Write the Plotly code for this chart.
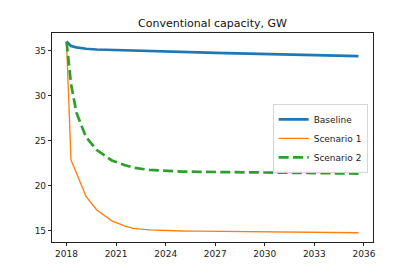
import plotly.graph_objects as go

years = [2018.0, 2018.27, 2018.6, 2019.18, 2019.83, 2020.74, 2021.5, 2022.05,
         2023.0, 2024.0, 2025.0, 2026.0, 2027.0, 2028.0, 2029.0, 2030.0,
         2031.0, 2032.0, 2033.0, 2034.0, 2035.0, 2035.67]

baseline = [36.0, 35.5, 35.35, 35.2, 35.12, 35.06, 35.02, 34.98, 34.92, 34.87,
            34.83, 34.79, 34.75, 34.71, 34.67, 34.63, 34.59, 34.55, 34.51,
            34.46, 34.41, 34.38]

scenario1 = [36.0, 22.85, 21.4, 18.8, 17.3, 16.1, 15.55, 15.27, 15.1, 15.0,
             14.97, 14.95, 14.93, 14.91, 14.9, 14.88, 14.87, 14.85, 14.83,
             14.81, 14.79, 14.78]

scenario2 = [36.0, 31.3, 28.1, 25.4, 23.95, 22.8, 22.3, 22.0, 21.75, 21.62,
             21.57, 21.54, 21.52, 21.5, 21.48, 21.46, 21.44, 21.42, 21.4,
             21.38, 21.36, 21.35]

x_ticks = [2018, 2021, 2024, 2027, 2030, 2033, 2036]
y_ticks = [15, 20, 25, 30, 35]

fig = go.Figure()
fig.add_trace(go.Scatter(x=years, y=baseline, mode="lines", name="Baseline",
                         line=dict(color="#1f77b4", width=2.7)))
fig.add_trace(go.Scatter(x=years, y=scenario1, mode="lines", name="Scenario 1",
                         line=dict(color="#ff7f0e", width=1.35)))
fig.add_trace(go.Scatter(x=years, y=scenario2, mode="lines", name="Scenario 2",
                         line=dict(color="#2ca02c", width=2.7, dash="10px,4.3px")))

axis_common = dict(showgrid=False, zeroline=False, showline=True, linecolor="#222",
                   linewidth=0.8, mirror=True, ticks="outside", ticklen=3.2,
                   tickwidth=0.8, tickcolor="#222",
                   tickfont=dict(family="DejaVu Sans", size=9, color="#222"))

fig.update_layout(
    width=415, height=277,
    margin=dict(l=52, r=42, t=33, b=35),
    paper_bgcolor="white", plot_bgcolor="white",
    title=dict(text="Conventional capacity, GW", x=0.512, xanchor="center",
               y=0.916, yanchor="middle",
               font=dict(family="DejaVu Sans", size=11, color="#111")),
    xaxis=dict(range=[2017.12, 2036.55], tickvals=x_ticks,
               ticktext=[str(t) for t in x_ticks], **axis_common),
    yaxis=dict(range=[13.75, 36.95], tickvals=y_ticks,
               ticktext=[str(t) for t in y_ticks], **axis_common),
    showlegend=True,
    legend=dict(x=0.984, xanchor="right", y=0.66, yanchor="top",
                bgcolor="rgba(255,255,255,0.8)", bordercolor="#ccc", borderwidth=0.8,
                font=dict(family="DejaVu Sans", size=9, color="#222"),
                itemwidth=30, tracegroupgap=0),
)

fig.write_html("out.html", config={"displayModeBar": False},
               post_script="document.body.style.margin='0';document.body.style.padding='0';")
